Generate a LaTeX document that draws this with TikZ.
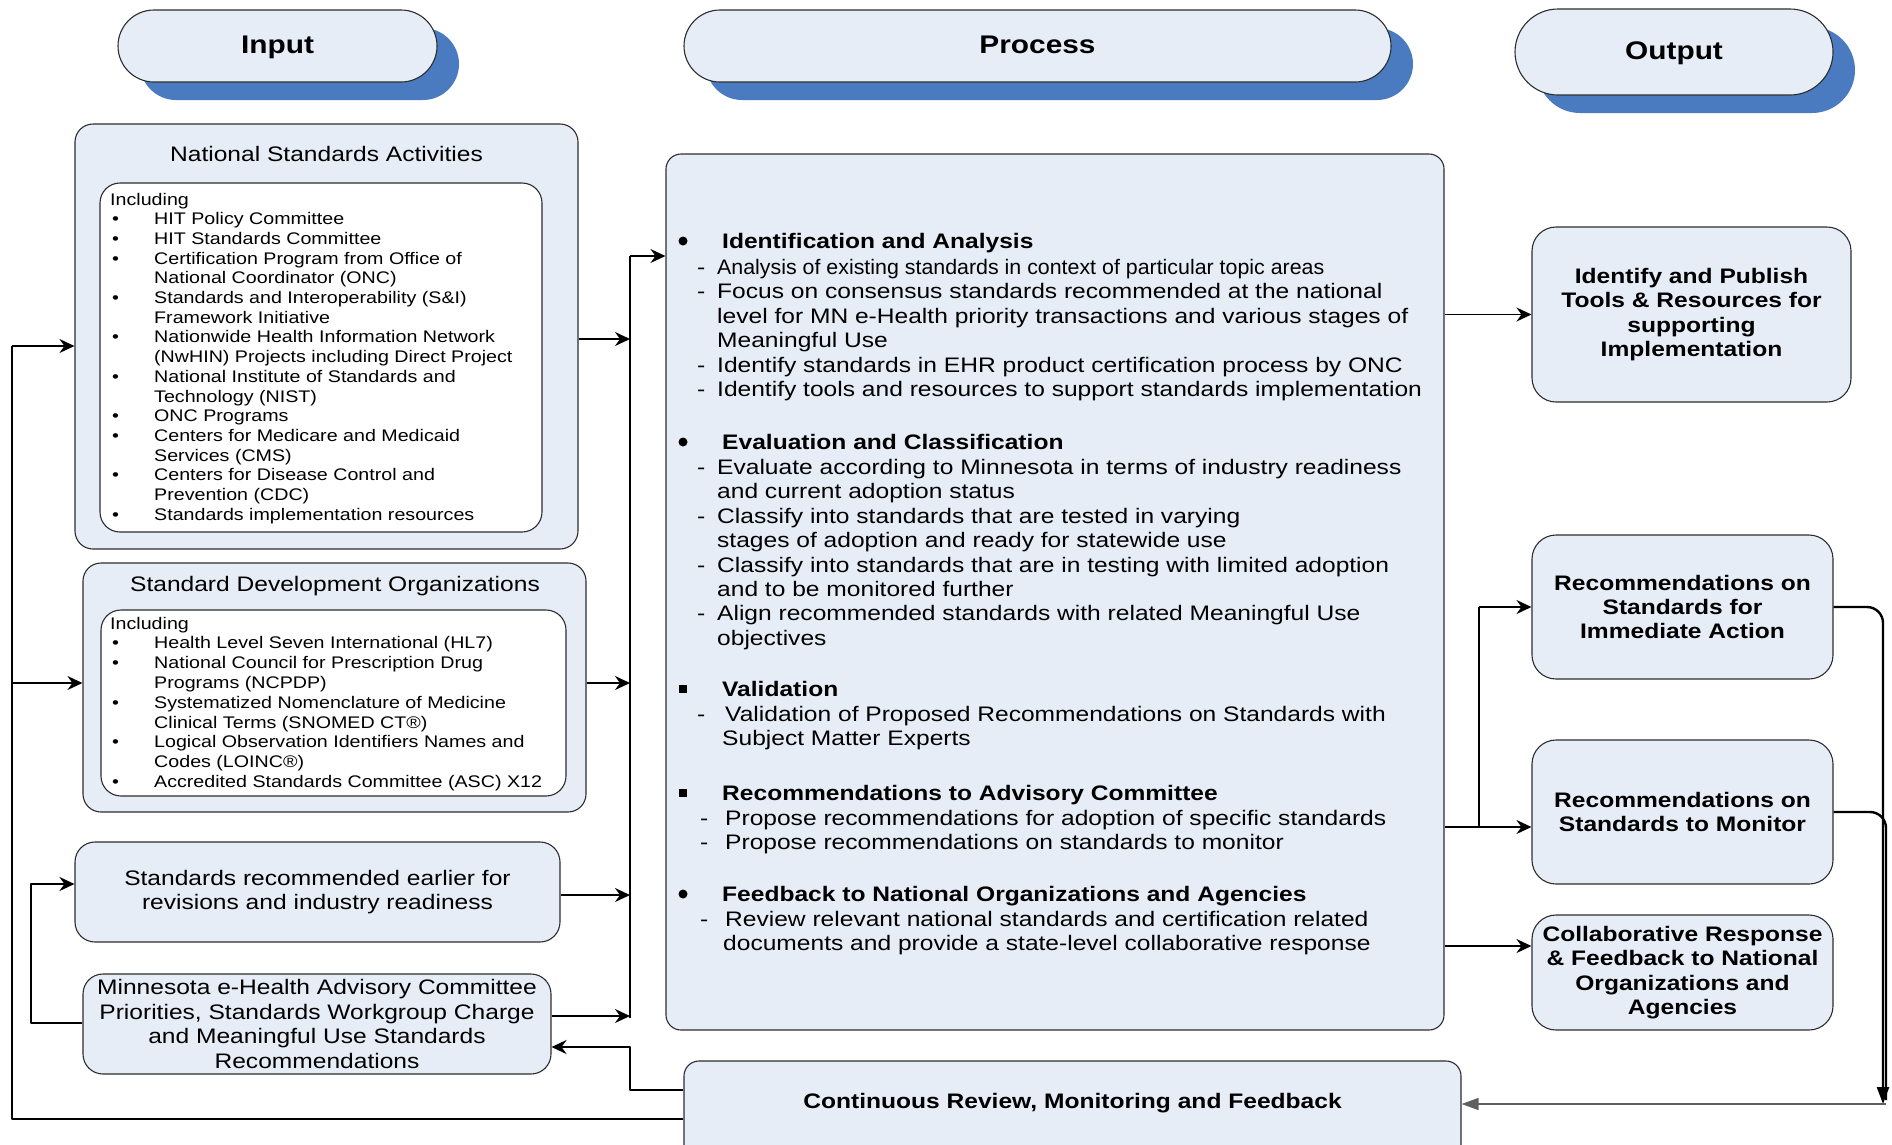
\documentclass[tikz,border=0pt]{standalone}
\usepackage{fontspec}
\usepackage{graphicx}
\setmainfont[FakeStretch=1.17]{Liberation Sans}
\usetikzlibrary{arrows.meta,shadows}
\definecolor{boxfill}{RGB}{230,237,247}
\definecolor{shadowblue}{RGB}{74,123,192}
\definecolor{edge}{RGB}{45,45,45}
\definecolor{greyline}{RGB}{95,95,95}
\newcommand{\bl}{\makebox[44pt][l]{\hspace*{2pt}•}}
\newcommand{\ct}{\hspace*{44pt}}
\newcommand{\dsh}[1]{\makebox[#1][l]{-}}
\newcommand{\pilltext}[1]{\raisebox{-5pt}{#1}}
\begin{document}
\begin{tikzpicture}[x=1pt,y=-1pt,
 rbox/.style={draw=edge,line width=1.1pt,fill=boxfill,inner sep=0pt},
 wbox/.style={draw=edge,line width=1.1pt,fill=white,inner sep=0pt,rounded corners=20pt},
 pill/.style={rbox,font=\fontsize{25.5}{30}\selectfont\bfseries,
   text height=0.72em, text depth=0.22em,
   drop shadow={shadow xshift=22pt,shadow yshift=-18pt,fill=shadowblue,opacity=1}},
 body/.style={font=\fontsize{21}{24.4}\selectfont, align=center},
 bbody/.style={font=\fontsize{21}{24.4}\selectfont\bfseries, align=center},
 txt/.style={inner sep=0pt, anchor=base west},
 ctxt/.style={inner sep=0pt, anchor=base, font=\fontsize{21}{24.4}\selectfont},
 fat/.style={line width=2.4pt, draw=black, line join=round},
 slim/.style={line width=1.4pt, draw=black},
 arr/.style={-{Stealth[length=15pt,width=14pt,inset=5pt]}},
 tri/.style={-{Triangle[length=17pt,width=12pt]}},
 dotb/.style={circle, fill=black, inner sep=0pt, minimum size=9pt},
 sqb/.style={rectangle, fill=black, inner sep=0pt, minimum size=8pt},
]
\useasboundingbox (0,0) rectangle (1892,1144);

% ---------- header pills ----------
\node[pill, rounded corners=36pt, minimum width=319pt, minimum height=72pt] (pin) at (277.5,46) {\pilltext{Input}};
\node[pill, rounded corners=36pt, minimum width=707pt, minimum height=72pt] (ppr) at (1037.5,46) {\pilltext{Process}};
\node[pill, rounded corners=43pt, minimum width=318pt, minimum height=86pt] (pout) at (1674,52) {\pilltext{Output}};

% ---------- input column ----------
\node[rbox, rounded corners=18pt, minimum width=503pt, minimum height=425pt] (nsa) at (326.5,336.5) {};
\node[wbox, minimum width=442pt, minimum height=349pt] (nsai) at (321,357.5) {};
\node[ctxt] (nsat) at (326.5,161.5) {National Standards Activities};
\node[txt] (nsal) at (110,205) {\parbox[t]{430pt}{\fontsize{16.8}{19.7}\selectfont
Including\\
\bl HIT Policy Committee\\
\bl HIT Standards Committee\\
\bl Certification Program from Office of\\
\ct National Coordinator (ONC)\\
\bl Standards and Interoperability (S\&I)\\
\ct Framework Initiative\\
\bl Nationwide Health Information Network\\
\ct (NwHIN) Projects including Direct Project\\
\bl National Institute of Standards and\\
\ct Technology (NIST)\\
\bl ONC Programs\\
\bl Centers for Medicare and Medicaid\\
\ct Services (CMS)\\
\bl Centers for Disease Control and\\
\ct Prevention (CDC)\\
\bl Standards implementation resources}};

\node[rbox, rounded corners=18pt, minimum width=503pt, minimum height=249pt] (sdo) at (334.5,687.5) {};
\node[wbox, minimum width=465pt, minimum height=186pt] (sdoi) at (333.5,703) {};
\node[ctxt] (sdot) at (335,591.5) {Standard Development Organizations};
\node[txt] (sdol) at (110,629) {\parbox[t]{450pt}{\fontsize{16.8}{19.8}\selectfont
Including\\
\bl Health Level Seven International (HL7)\\
\bl National Council for Prescription Drug\\
\ct Programs (NCPDP)\\
\bl Systematized Nomenclature of Medicine\\
\ct Clinical Terms (SNOMED CT®)\\
\bl Logical Observation Identifiers Names and\\
\ct Codes (LOINC®)\\
\bl Accredited Standards Committee (ASC) X12}};

\node[rbox, body, rounded corners=20pt, minimum width=485pt, minimum height=100pt] (sre) at (317.5,892)
 {Standards recommended earlier for\\revisions and industry readiness};
\node[rbox, body, rounded corners=20pt, minimum width=468pt, minimum height=100pt] (mn) at (317,1024)
 {Minnesota e-Health Advisory Committee\\Priorities, Standards Workgroup Charge\\and Meaningful Use Standards\\Recommendations};

% ---------- process ----------
\node[rbox, rounded corners=15pt, minimum width=778pt, minimum height=876pt] (proc) at (1055,592) {};
\node[rbox, rounded corners=15pt, minimum width=777pt, minimum height=124pt] (cr) at (1072.5,1123) {};
\node[inner sep=0pt, font=\fontsize{21}{24.4}\selectfont\bfseries] (crt) at (1072.5,1103) {Continuous Review, Monitoring and Feedback};

% Identification and Analysis
\node[dotb] (b1) at (683,241) {};
\node[txt, font=\fontsize{21}{24.4}\selectfont\bfseries] (h1) at (722,248.5) {Identification and Analysis};
\node[txt] (s1) at (697,274.5) {\parbox[t]{740pt}{\fontsize{21}{24.4}\selectfont
\dsh{20pt}\scalebox{0.87}[1]{Analysis of existing standards in context of particular topic areas}\\
\dsh{20pt}Focus on consensus standards recommended at the national\\
\hspace*{20pt}level for MN e-Health priority transactions and various stages of\\
\hspace*{20pt}Meaningful Use\\
\dsh{20pt}Identify standards in EHR product certification process by ONC\\
\dsh{20pt}Identify tools and resources to support standards implementation}};

% Evaluation and Classification
\node[dotb] (b2) at (683,442) {};
\node[txt, font=\fontsize{21}{24.4}\selectfont\bfseries] (h2) at (722,449.5) {Evaluation and Classification};
\node[txt] (s2) at (697,474.5) {\parbox[t]{740pt}{\fontsize{21}{24.4}\selectfont
\dsh{20pt}Evaluate according to Minnesota in terms of industry readiness\\
\hspace*{20pt}and current adoption status\\
\dsh{20pt}Classify into standards that are tested in varying\\
\hspace*{20pt}stages of adoption and ready for statewide use\\
\dsh{20pt}Classify into standards that are in testing with limited adoption\\
\hspace*{20pt}and to be monitored further\\
\dsh{20pt}Align recommended standards with related Meaningful Use\\
\hspace*{20pt}objectives}};

% Validation
\node[sqb] (b3) at (683,689) {};
\node[txt, font=\fontsize{21}{24.4}\selectfont\bfseries] (h3) at (722,696.5) {Validation};
\node[txt] (s3) at (697,721.5) {\parbox[t]{740pt}{\fontsize{21}{24.4}\selectfont
\dsh{28pt}Validation of Proposed Recommendations on Standards with\\
\hspace*{25pt}Subject Matter Experts}};

% Recommendations to Advisory Committee
\node[sqb] (b4) at (683,793) {};
\node[txt, font=\fontsize{21}{24.4}\selectfont\bfseries] (h4) at (722,800.5) {Recommendations to Advisory Committee};
\node[txt] (s4) at (700,825.5) {\parbox[t]{740pt}{\fontsize{21}{24.4}\selectfont
\dsh{25pt}Propose recommendations for adoption of specific standards\\
\dsh{25pt}Propose recommendations on standards to monitor}};

% Feedback
\node[dotb] (b5) at (683,894) {};
\node[txt, font=\fontsize{21}{24.4}\selectfont\bfseries] (h5) at (722,901.5) {Feedback to National Organizations and Agencies};
\node[txt] (s5) at (700,926.5) {\parbox[t]{740pt}{\fontsize{21}{24.4}\selectfont
\dsh{25pt}Review relevant national standards and certification related\\
\hspace*{23pt}documents and provide a state-level collaborative response}};

% ---------- output column ----------
\node[rbox, bbody, rounded corners=24pt, minimum width=319pt, minimum height=175pt] (idp) at (1691.5,314.5)
 {Identify and Publish\\Tools \& Resources for\\supporting\\Implementation};
\node[rbox, bbody, rounded corners=24pt, minimum width=301pt, minimum height=144pt] (rimm) at (1682.5,607)
 {Recommendations on\\Standards for\\Immediate Action};
\node[rbox, bbody, rounded corners=24pt, minimum width=301pt, minimum height=144pt] (rmon) at (1682.5,812)
 {Recommendations on\\Standards to Monitor};
\node[rbox, bbody, rounded corners=24pt, minimum width=301pt, minimum height=115pt] (col) at (1682.5,972.5)
 {Collaborative Response\\\& Feedback to National\\Organizations and\\Agencies};

% ---------- connectors ----------
% feedback loop on the far left
\coordinate (L0) at (12,1119);
\coordinate (L1) at (12,346);
\coordinate (L2) at (12,683);
\draw[fat] (cr.west |- L0) -- (L0) -- (L1);
\draw[slim,arr] (L1) -- (nsa.west |- L1);
\draw[slim,arr] (L2) -- (sdo.west |- L2);

% Minnesota loop to earlier standards
\coordinate (M0) at (31,1023);
\coordinate (M1) at (31,884);
\draw[fat,arr] (mn.west |- M0) -- (M0) -- (M1) -- (sre.west |- M1);

% input bus
\coordinate (B0) at (630,256);
\coordinate (B1) at (630,1018);
\draw[fat] (B0) -- (B1);
\draw[slim,arr] (B0) -- (proc.west |- B0);
\draw[slim,arr] (nsa.east |- 0,339) -- (B0 |- 0,339);
\draw[slim,arr] (sdo.east |- 0,683) -- (B0 |- 0,683);
\draw[slim,arr] (sre.east |- 0,895) -- (B0 |- 0,895);
\draw[slim,arr] (mn.east |- 0,1016) -- (B0 |- 0,1016);

% continuous review back to Minnesota box
\coordinate (C0) at (630,1090);
\coordinate (C1) at (630,1047);
\draw[fat,arr] (cr.west |- C0) -- (C0) -- (C1) -- (mn.east |- C1);

% process to outputs
\draw[slim,arr] (proc.east |- idp.west) -- (idp.west);
\coordinate (J0) at (1479,827);
\coordinate (J1) at (1479,607);
\draw[fat] (proc.east |- J0) -- (J0) -- (J1);
\draw[slim,arr] (J1) -- (rimm.west);
\draw[slim,arr] (J0) -- (rmon.west |- J0);
\draw[slim,arr] (proc.east |- 0,946) -- (col.west |- 0,946);

% outputs back to continuous review
\coordinate (R0) at (1883,1104);
\coordinate (R1) at (1886,1100);
\coordinate (R2) at (1886,1104);
\draw[fat, rounded corners=16pt] (rmon.east) -| (R1);
\draw[fat, rounded corners=16pt, tri] (rimm.east) -| (R0);
\draw[line width=1.6pt, draw=greyline, tri] (R2) -- (cr.east |- R2);
\end{tikzpicture}
\end{document}
